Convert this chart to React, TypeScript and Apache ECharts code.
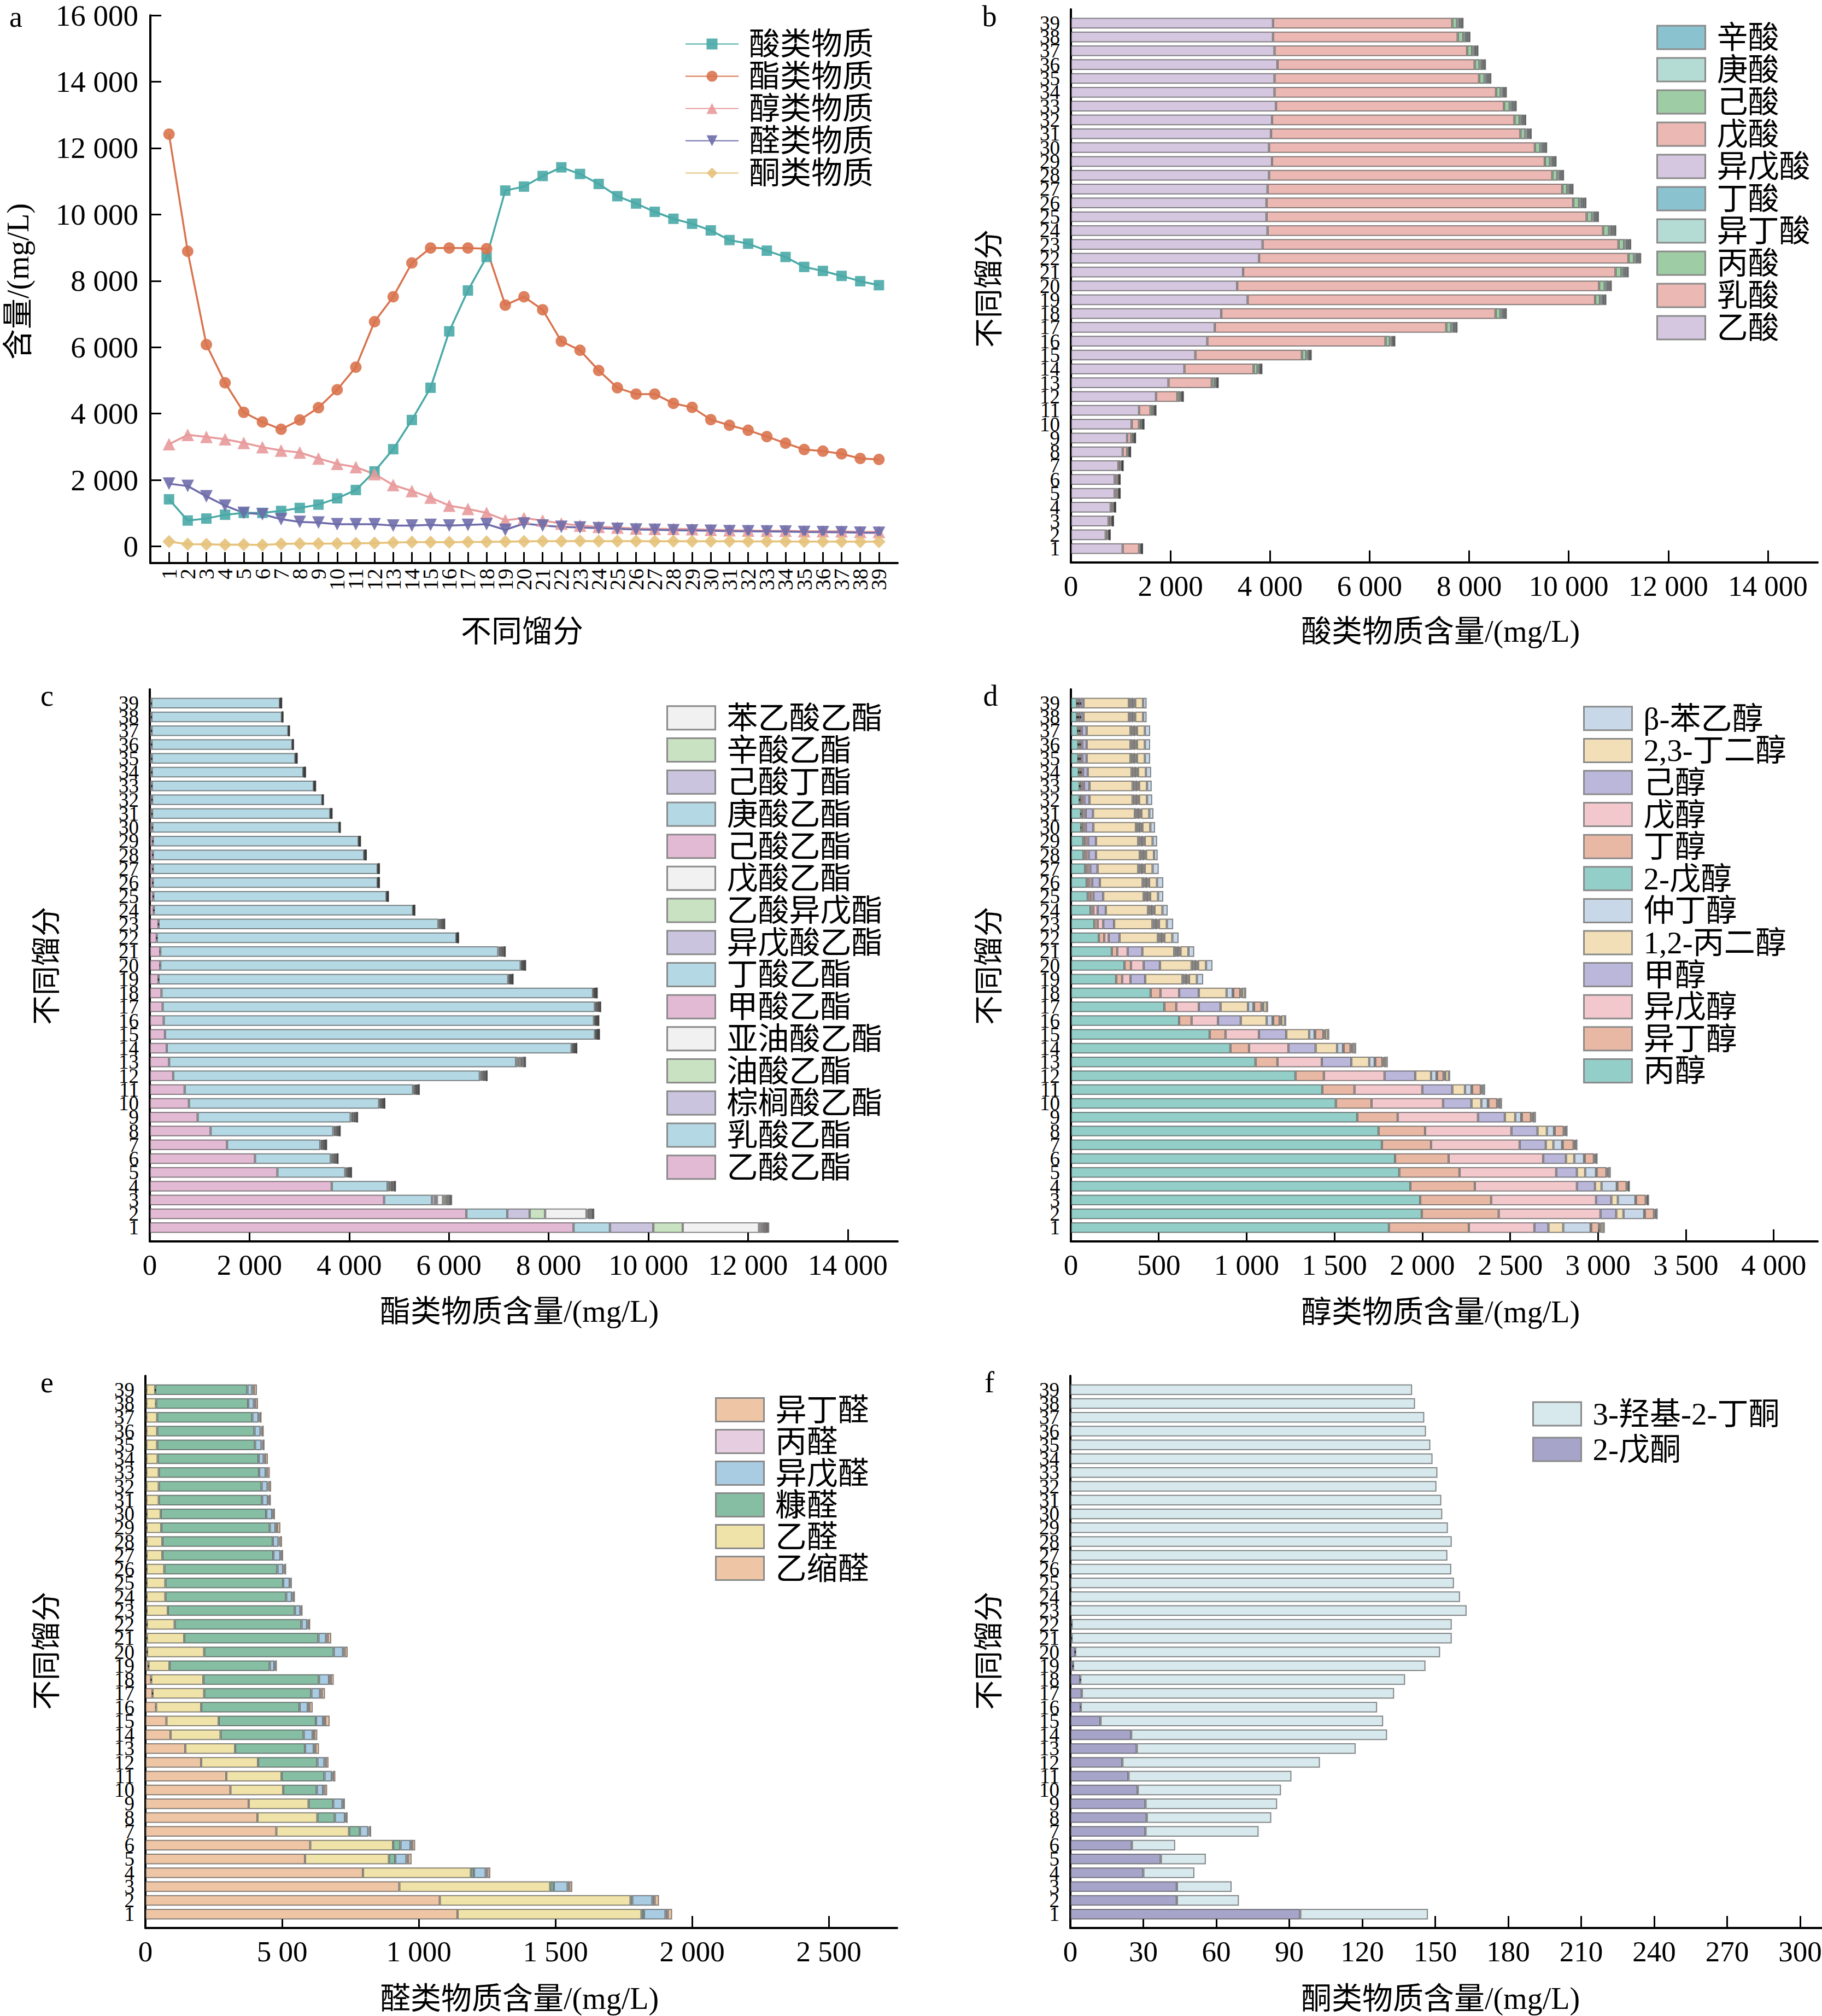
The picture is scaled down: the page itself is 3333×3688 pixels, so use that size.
import React, { useEffect, useRef } from 'react';
import * as echarts from 'echarts';

const W = 3333;
const H = 3688;
const LATIN = '"Liberation Serif", "Times New Roman", serif';
const FONT = '"Liberation Serif", "Noto Sans CJK SC", serif';

// ---------- categories / tick labels ----------
const fractions = ['1','2','3','4','5','6','7','8','9','10','11','12','13','14','15','16','17','18','19','20','21','22','23','24','25','26','27','28','29','30','31','32','33','34','35','36','37','38','39'];
const ticksA = [0, 2000, 4000, 6000, 8000, 10000, 12000, 14000, 16000];
const labelsA = ['0', '2 000', '4 000', '6 000', '8 000', '10 000', '12 000', '14 000', '16 000'];
const ticksBC = [0, 2000, 4000, 6000, 8000, 10000, 12000, 14000];
const labelsBC = ['0', '2 000', '4 000', '6 000', '8 000', '10 000', '12 000', '14 000'];
const ticksD = [0, 500, 1000, 1500, 2000, 2500, 3000, 3500, 4000];
const labelsD = ['0', '500', '1 000', '1 500', '2 000', '2 500', '3 000', '3 500', '4 000'];
const ticksE = [0, 500, 1000, 1500, 2000, 2500];
const labelsE = ['0', '5 00', '1 000', '1 500', '2 000', '2 500'];
const ticksF = [0, 30, 60, 90, 120, 150, 180, 210, 240, 270, 300];
const labelsF = ['0', '30', '60', '90', '120', '150', '180', '210', '240', '270', '300'];

// ---------- panel a: totals ----------
const acidTotal = [1420,780,840,955,1010,1010,1070,1160,1260,1450,1700,2260,2930,3810,4780,6480,7710,8720,10720,10840,11160,11420,11220,10920,10550,10330,10080,9870,9720,9520,9230,9120,8910,8720,8420,8300,8150,7990,7870];
const esterTotal = [12420,8890,6080,4930,4040,3750,3530,3810,4180,4720,5400,6770,7520,8540,8990,8990,8990,8970,7270,7520,7130,6180,5910,5300,4780,4590,4590,4310,4190,3820,3650,3500,3310,3110,2920,2870,2790,2650,2620];
const alcoholTotal = [3080,3360,3300,3230,3120,2990,2890,2830,2650,2490,2390,2180,1850,1670,1470,1230,1130,1010,790,855,780,690,630,590,570,540,530,530,520,500,490,480,470,470,460,460,455,440,440];
const aldehydeTotal = [1890,1820,1510,1230,1010,970,820,740,720,670,670,670,630,630,650,630,650,670,500,690,630,590,570,550,530,510,500,490,480,470,460,455,450,445,435,430,425,415,410];
const ketoneTotal = [147,69,66,51,56,43,77,83,85,87,91,103,117,130,129,126,133,138,146,152,157,157,163,160,158,157,155,157,155,153,153,151,151,149,148,146,146,142,141];

// ---------- panel b: acids ----------
const aceticAcid = [1040,700,757,800,880,880,955,1040,1130,1220,1370,1710,1960,2280,2500,2740,2890,3020,3550,3340,3460,3780,3850,3950,3930,3930,3950,3980,4040,3980,4020,4040,4120,4090,4090,4150,4090,4060,4060];
const lacticAcid = [330,35,43,45,50,50,45,90,80,150,230,430,870,1390,2140,3580,4650,5510,6980,7270,7480,7420,7150,6740,6430,6160,5920,5690,5480,5340,5010,4870,4580,4450,4110,3960,3870,3710,3600];
const propionicAcid = [30,20,20,20,25,25,20,30,40,45,50,55,60,80,90,90,100,100,100,115,120,115,115,120,110,120,100,105,105,110,100,105,115,95,110,100,100,115,100];
const isobutyricAcid = [8,6,6,6,6,6,5,8,10,10,12,12,14,18,20,20,24,24,24,27,28,27,27,28,26,28,24,25,25,26,24,25,27,23,26,24,24,27,24];
const butyricAcid = [12,10,10,10,10,10,8,12,15,16,18,20,22,28,32,32,36,36,36,40,42,40,40,42,40,42,36,38,38,40,36,38,40,34,40,36,36,40,36];
const isovalericAcid = [4,4,4,4,4,4,4,4,5,6,6,7,8,9,10,10,12,12,12,13,14,13,13,14,13,14,12,12,12,13,12,12,13,11,12,12,12,13,12];
const valericAcid = [4,3,4,3,4,4,3,4,5,5,6,6,6,8,8,8,10,10,10,11,11,11,11,11,10,11,10,10,10,10,10,10,11,10,10,10,10,11,10];
const hexanoicAcid = [8,8,8,8,7,7,6,8,10,12,12,13,13,17,19,19,24,24,24,27,28,27,27,28,26,28,24,25,25,26,24,25,27,23,26,24,24,27,24];
const heptanoicAcid = [2,2,2,2,2,2,2,2,2,3,3,3,4,5,6,6,7,7,7,8,8,8,8,8,7,8,7,7,7,8,7,7,8,7,8,7,7,8,7];
const octanoicAcid = [2,2,2,2,2,2,2,2,3,3,3,4,3,5,5,5,7,7,7,9,9,9,9,9,8,9,7,8,8,7,7,8,9,7,8,7,7,9,7];

// ---------- panel c: esters ----------
const ethylAcetate = [8500,6350,4700,3650,2560,2110,1550,1220,960,785,700,470,387,340,305,280,258,235,175,210,210,140,175,80,70,60,60,60,60,50,45,45,40,40,38,36,35,32,30];
const ethylLactate = [730,820,960,1120,1360,1520,1870,2460,3070,3815,4580,6150,6960,8120,8625,8630,8670,8655,7015,7230,6780,6010,5615,5200,4680,4510,4510,4240,4130,3750,3575,3415,3250,3040,2882,2824,2745,2618,2580];
const ethylPalmitate = [870,450,60,22,18,21,18,20,20,16,18,21,27,15,13,14,16,12,14,14,20,6,18,5,5,5,5,6,5,3,5,3,5,6,5,3,3,3,5];
const ethylOleate = [590,310,40,15,12,14,12,13,13,11,12,14,18,10,9,9,11,8,9,9,13,4,12,3,3,3,3,4,3,2,3,2,3,4,3,2,2,2,3];
const ethylLinoleate = [1530,830,120,14,12,13,12,13,12,11,12,13,18,10,8,9,11,8,9,9,13,4,12,3,3,3,3,4,3,2,3,2,3,4,3,2,2,2,3];
const ethylFormate = [30,20,25,18,14,17,14,16,16,13,14,17,22,12,10,11,13,10,11,11,16,5,14,4,4,4,4,5,4,2,4,2,4,5,4,2,2,2,4];
const ethylButyrate = [25,20,25,15,12,14,12,13,13,11,12,14,18,10,9,9,11,8,9,9,13,4,12,3,3,3,3,4,3,2,3,2,3,4,3,2,2,2,3];
const ethylIsovalerate = [15,10,15,8,6,7,6,7,7,6,6,7,9,5,4,5,6,4,5,5,7,2,6,2,2,2,2,2,2,1,2,1,2,2,2,1,1,1,2];
const isoamylAcetate = [30,25,30,18,15,17,14,16,15,13,14,17,21,12,10,11,13,10,11,11,16,5,14,4,4,4,4,5,4,2,4,2,4,5,4,2,2,2,4];
const ethylValerate = [10,10,10,8,6,7,6,7,7,6,6,7,9,5,4,5,6,4,5,5,7,2,6,2,2,2,2,2,2,1,2,1,2,2,2,1,1,1,2];
const ethylHexanoate = [40,30,30,18,14,17,15,16,16,13,14,17,22,12,10,11,13,10,11,11,16,5,14,4,4,4,4,5,4,2,4,2,4,5,4,2,2,2,4];
const ethylHeptanoate = [10,8,10,7,6,7,6,6,7,5,6,7,9,5,4,4,6,4,4,5,7,2,6,2,2,2,2,2,2,1,2,1,2,2,2,1,1,1,2];
const butylHexanoate = [10,8,10,5,4,4,4,4,4,3,4,4,5,3,3,3,3,2,3,3,4,1,4,1,1,1,1,1,1,1,1,1,1,1,1,1,1,1,1];
const ethylOctanoate = [20,12,15,8,6,7,6,7,7,6,6,7,9,5,4,5,6,4,5,5,7,2,6,2,2,2,2,2,2,1,2,1,2,2,2,1,1,1,2];
const ethylPhenylacetate = [10,7,10,4,4,4,4,4,4,3,4,4,5,3,3,3,3,2,3,3,4,1,4,1,1,1,1,1,1,1,1,1,1,1,1,1,1,1,1];

// ---------- panel d: alcohols ----------
const propanol = [1810,1997,1988,1932,1869,1845,1770,1751,1630,1508,1431,1278,1051,908,790,616,532,454,258,305,233,159,134,112,96,90,81,72,70,59,58,50,50,45,42,42,40,35,35];
const isobutanol = [455,438,404,367,343,305,280,265,230,203,183,162,125,106,90,71,68,56,34,37,31,31,18,16,16,15,14,14,13,12,12,12,11,11,10,10,10,9,9];
const isoamylAlcohol = [373,579,597,581,550,538,504,491,457,407,386,345,252,224,190,150,128,106,47,72,59,25,32,24,16,16,15,15,15,14,14,14,13,13,12,12,12,11,11];
const methanol = [80,90,87,103,118,130,149,149,153,162,171,175,168,155,156,130,124,112,84,93,84,62,62,47,56,44,42,42,45,43,42,30,32,27,26,26,28,17,17];
const propanediol = [84,41,37,37,47,47,43,53,59,56,72,90,102,122,130,147,156,158,212,180,181,218,218,240,230,243,231,249,240,242,238,245,245,249,249,249,249,258,258];
const secButanol = [156,118,100,87,62,56,50,41,34,37,37,31,31,34,31,34,31,35,10,10,10,10,10,10,10,10,10,10,10,10,10,10,10,10,10,10,10,10,10];
const pentan2ol = [3,3,3,3,3,3,3,3,3,3,3,3,3,3,3,3,3,3,5,5,5,5,5,5,5,5,5,5,5,5,5,5,5,5,5,5,5,5,5];
const butanol = [45,53,56,53,56,53,62,52,53,50,50,37,41,40,47,37,43,40,12,12,11,12,12,12,12,12,12,11,12,12,12,12,12,12,12,12,12,11,11];
const pentanol = [5,5,5,5,5,5,5,5,5,5,5,5,5,5,5,5,5,5,5,5,5,5,5,5,5,5,5,5,5,5,5,5,5,5,5,5,5,5,5];
const hexanol = [5,5,5,5,5,5,5,5,5,5,5,5,5,5,5,5,5,5,5,5,5,5,5,5,5,5,5,5,5,5,5,5,5,5,5,5,5,5,5];
const butanediol = [15,3,1,1,7,3,4,4,10,10,7,20,13,14,16,20,20,16,45,45,45,45,45,45,45,45,45,45,45,45,45,45,45,45,45,45,45,45,45];
const phenylethanol = [8,8,8,8,8,8,8,8,8,8,8,8,8,8,8,8,8,8,36,37,33,36,36,30,30,36,35,21,26,27,24,30,27,30,30,30,30,20,20];

// ---------- panel e: aldehydes ----------
const acetal = [1142,1077,929,796,584,603,479,410,378,311,296,204,146,92,77,39,26,21,11,6,5,5,4,4,4,4,4,4,4,4,3,3,3,3,3,3,3,3,3];
const acetaldehyde = [673,698,552,395,307,303,266,219,219,193,202,208,182,183,191,165,189,191,77,209,137,102,78,69,69,65,58,58,54,52,46,46,46,42,40,40,40,36,33];
const furfural = [9,6,13,11,23,27,40,64,90,123,157,217,256,304,356,360,392,423,367,474,491,464,465,442,431,414,406,404,397,386,378,376,367,369,358,356,348,337,337];
const isovaleraldehyde = [79,74,51,43,41,37,30,37,34,23,27,26,32,33,26,30,32,37,17,34,28,21,20,21,24,21,26,21,21,22,21,22,24,19,24,22,23,21,18];
const propanal = [8,8,6,6,6,6,4,3,3,5,4,5,6,6,8,6,6,6,3,6,6,4,3,4,3,4,3,4,6,3,4,4,5,5,4,4,4,5,6];
const isobutyraldehyde = [16,16,11,11,13,11,7,7,6,10,9,10,13,11,16,12,12,11,6,11,13,7,5,7,5,7,7,9,12,7,7,9,10,10,7,8,7,10,11];

// ---------- panel f: ketones ----------
const pentan2one = [94.5,43.8,43.8,30,37.2,25.3,30.9,31.4,30.9,27.7,23.9,21.4,27.3,25,12.4,4.3,4.7,4.1,1.1,2,0.5,0.5,0,0,0,0,0,0,0,0,0,0,0,0,0,0,0,0,0];
const acetoin = [52.5,25.5,22.5,21,18.5,17.8,46.5,51.2,54.1,58.9,67,81.2,90,105.2,116.2,121.8,128.4,133.5,144.9,150,156.3,156.3,162.9,160.2,157.7,156.6,155,156.8,155.2,152.9,152.5,150.5,150.9,148.9,148,146.2,145.5,141.7,140.5];

// ---------- helpers ----------
const padCats = ['', ...fractions, ''];
const pad = (a: number[]) => [null, ...a, null];

type Def = [string, number[], string];

const defsB: Def[] = [
  ['乙酸', aceticAcid, '#D4C7DF'],
  ['乳酸', lacticAcid, '#EBB8B3'],
  ['丙酸', propionicAcid, '#9ECCA4'],
  ['异丁酸', isobutyricAcid, '#B5DCD4'],
  ['丁酸', butyricAcid, '#8BC2CF'],
  ['异戊酸', isovalericAcid, '#D4C7DF'],
  ['戊酸', valericAcid, '#EBB8B3'],
  ['己酸', hexanoicAcid, '#9ECCA4'],
  ['庚酸', heptanoicAcid, '#B5DCD4'],
  ['辛酸', octanoicAcid, '#8BC2CF'],
];
const defsC: Def[] = [
  ['乙酸乙酯', ethylAcetate, '#E3BAD3'],
  ['乳酸乙酯', ethylLactate, '#B4D9E4'],
  ['棕榈酸乙酯', ethylPalmitate, '#CAC4DE'],
  ['油酸乙酯', ethylOleate, '#C8E2C2'],
  ['亚油酸乙酯', ethylLinoleate, '#F1F1F1'],
  ['甲酸乙酯', ethylFormate, '#E3BAD3'],
  ['丁酸乙酯', ethylButyrate, '#B4D9E4'],
  ['异戊酸乙酯', ethylIsovalerate, '#CAC4DE'],
  ['乙酸异戊酯', isoamylAcetate, '#C8E2C2'],
  ['戊酸乙酯', ethylValerate, '#F1F1F1'],
  ['己酸乙酯', ethylHexanoate, '#E3BAD3'],
  ['庚酸乙酯', ethylHeptanoate, '#B4D9E4'],
  ['己酸丁酯', butylHexanoate, '#CAC4DE'],
  ['辛酸乙酯', ethylOctanoate, '#C8E2C2'],
  ['苯乙酸乙酯', ethylPhenylacetate, '#F1F1F1'],
];
const defsD: Def[] = [
  ['丙醇', propanol, '#93CEC8'],
  ['异丁醇', isobutanol, '#E8B8A4'],
  ['异戊醇', isoamylAlcohol, '#F2C8CC'],
  ['甲醇', methanol, '#BAB7DB'],
  ['1,2-丙二醇', propanediol, '#F2DFB7'],
  ['仲丁醇', secButanol, '#C8D8E8'],
  ['2-戊醇', pentan2ol, '#93CEC8'],
  ['丁醇', butanol, '#E8B8A4'],
  ['戊醇', pentanol, '#F2C8CC'],
  ['己醇', hexanol, '#BAB7DB'],
  ['2,3-丁二醇', butanediol, '#F2DFB7'],
  ['β-苯乙醇', phenylethanol, '#C8D8E8'],
];
const defsE: Def[] = [
  ['乙缩醛', acetal, '#EEC6A5'],
  ['乙醛', acetaldehyde, '#F0E3A9'],
  ['糠醛', furfural, '#86BEA4'],
  ['异戊醛', isovaleraldehyde, '#A9CCE3'],
  ['丙醛', propanal, '#E7CDE0'],
  ['异丁醛', isobutyraldehyde, '#EEC6A5'],
];
const defsF: Def[] = [
  ['2-戊酮', pentan2one, '#A6A4C9'],
  ['3-羟基-2-丁酮', acetoin, '#D8E9ED'],
];

const lineDefs: [string, number[], string, string, number, number][] = [
  ['酸类物质', acidTotal, '#49A9A6', 'rect', 19, 0],
  ['酯类物质', esterTotal, '#D9734E', 'circle', 21, 0],
  ['醇类物质', alcoholTotal, '#E89A9B', 'triangle', 23, 0],
  ['醛类物质', aldehydeTotal, '#6D6BAA', 'triangle', 23, 180],
  ['酮类物质', ketoneTotal, '#E5C27A', 'diamond', 24, 0],
];

function fmtFrom(ticks: number[], labels: string[]) {
  return (v: number) => {
    const i = ticks.indexOf(Math.round(v));
    return i >= 0 ? labels[i] : '';
  };
}

const grids = [
  { left: 275, top: 28, width: 1367, height: 1002 },
  { left: 1959, top: 17, width: 1366, height: 1012 },
  { left: 274, top: 1261, width: 1368, height: 1010 },
  { left: 1959, top: 1261, width: 1366, height: 1010 },
  { left: 266, top: 2517, width: 1375, height: 1010 },
  { left: 1958, top: 2517, width: 1375, height: 1010 },
];

const AXIS_LINE = { show: true, onZero: false, lineStyle: { color: '#000', width: 4 } };

function valueXAxis(idx: number, max: number, ticks: number[], labels: string[]) {
  return {
    type: 'value', gridIndex: idx, min: 0, max,
    axisLine: AXIS_LINE,
    axisTick: { show: true, inside: true, length: 22, lineStyle: { color: '#000', width: 3 }, customValues: ticks },
    axisLabel: { show: true, customValues: ticks, formatter: fmtFrom(ticks, labels), fontFamily: LATIN, fontSize: 53, color: '#000', margin: 16 },
    splitLine: { show: false },
  };
}

function catYAxis(idx: number) {
  return {
    type: 'category', gridIndex: idx, data: padCats, boundaryGap: false,
    axisLine: AXIS_LINE,
    axisTick: { show: true, inside: true, length: 19, interval: (_i: number, v: string) => v !== '', lineStyle: { color: '#000', width: 4 } },
    axisLabel: { show: true, interval: 0, fontFamily: LATIN, fontSize: 37, lineHeight: 26, color: '#000', margin: 20 },
    splitLine: { show: false },
  };
}

function barSeries(defs: Def[], stack: string, idx: number) {
  return defs.map(([name, data, color]) => ({
    type: 'bar', name, stack, xAxisIndex: idx, yAxisIndex: idx, data: pad(data),
    barCategoryGap: '22%', silent: true,
    itemStyle: { color, borderColor: 'rgba(60,60,60,0.6)', borderWidth: 2 },
    emphasis: { disabled: true },
  }));
}

function barLegend(defs: Def[], left: number, top: number, rowH: number) {
  return {
    show: true, orient: 'vertical', left, top, itemWidth: 88, itemHeight: 43, itemGap: 0,
    selectedMode: false, icon: 'rect',
    data: defs.map((d) => d[0]).reverse(),
    itemStyle: { borderColor: '#8a8a8a', borderWidth: 3 },
    textStyle: { fontFamily: FONT, fontSize: 57, color: '#000', lineHeight: rowH, padding: [0, 0, 0, 16] },
  };
}

function txt(text: string, x: number, y: number, size: number, rotation = 0) {
  return {
    type: 'text', x, y, rotation, silent: true,
    style: { text, fontFamily: FONT, fontSize: size, fill: '#000', align: 'center', verticalAlign: 'middle' },
  };
}

function buildOption() {
  const lineSeries = lineDefs.map(([name, data, color, symbol, size, rot]) => ({
    type: 'line', name, xAxisIndex: 0, yAxisIndex: 0, data: pad(data),
    symbol, symbolSize: size, symbolRotate: rot, showSymbol: true, showAllSymbol: true,
    lineStyle: { color, width: 3.5 }, itemStyle: { color, opacity: 0.9 },
    silent: true, emphasis: { disabled: true },
  }));

  return {
    animation: false,
    backgroundColor: '#fff',
    grid: grids.map((g) => ({ ...g, containLabel: false, outerBoundsMode: 'none' })),
    xAxis: [
      {
        type: 'category', gridIndex: 0, data: padCats, boundaryGap: false,
        axisLine: AXIS_LINE,
        axisTick: { show: true, inside: true, length: 20, interval: (_i: number, v: string) => v !== '', lineStyle: { color: '#000', width: 3 } },
        axisLabel: { show: true, interval: 0, rotate: 90, fontFamily: LATIN, fontSize: 40, color: '#000', margin: 10 },
        splitLine: { show: false },
      },
      valueXAxis(1, 15000, ticksBC, labelsBC),
      valueXAxis(2, 15000, ticksBC, labelsBC),
      valueXAxis(3, 4250, ticksD, labelsD),
      valueXAxis(4, 2750, ticksE, labelsE),
      valueXAxis(5, 309, ticksF, labelsF),
    ],
    yAxis: [
      {
        type: 'value', gridIndex: 0, min: -500, max: 16000,
        axisLine: AXIS_LINE,
        axisTick: { show: true, inside: true, length: 20, lineStyle: { color: '#000', width: 3 }, customValues: ticksA },
        axisLabel: { show: true, customValues: ticksA, formatter: fmtFrom(ticksA, labelsA), fontFamily: LATIN, fontSize: 55, color: '#000', margin: 22 },
        splitLine: { show: false },
      },
      catYAxis(1), catYAxis(2), catYAxis(3), catYAxis(4), catYAxis(5),
    ],
    legend: [
      {
        show: true, orient: 'vertical', left: 1248, top: 46, itemWidth: 97, itemHeight: 25, itemGap: 0,
        selectedMode: false, data: lineDefs.map((d) => d[0]),
        textStyle: { fontFamily: FONT, fontSize: 57, color: '#000', lineHeight: 59, padding: [0, 0, 0, 14] },
      },
      barLegend(defsB, 3025, 34, 59),
      barLegend(defsC, 1214, 1279, 58.7),
      barLegend(defsD, 2891, 1280, 58.6),
      barLegend(defsE, 1303, 2545, 58),
      barLegend(defsF, 2798, 2549, 65),
    ],
    series: [
      ...lineSeries,
      ...barSeries(defsB, 'b', 1),
      ...barSeries(defsC, 'c', 2),
      ...barSeries(defsD, 'd', 3),
      ...barSeries(defsE, 'e', 4),
      ...barSeries(defsF, 'f', 5),
    ],
    graphic: [
      txt('a', 29, 31, 54), txt('b', 1810, 30, 54), txt('c', 86, 1273, 54),
      txt('d', 1812, 1273, 54), txt('e', 86, 2529, 54), txt('f', 1810, 2529, 54),
      txt('不同馏分', 955, 1155, 56),
      txt('酸类物质含量/(mg/L)', 2635, 1155, 56),
      txt('酯类物质含量/(mg/L)', 950, 2399, 56),
      txt('醇类物质含量/(mg/L)', 2635, 2400, 56),
      txt('醛类物质含量/(mg/L)', 950, 3656, 56),
      txt('酮类物质含量/(mg/L)', 2635, 3656, 56),
      txt('含量/(mg/L)', 33, 515, 56, Math.PI / 2),
      txt('不同馏分', 1810, 528, 54, Math.PI / 2),
      txt('不同馏分', 86, 1767, 54, Math.PI / 2),
      txt('不同馏分', 1810, 1767, 54, Math.PI / 2),
      txt('不同馏分', 86, 3020, 54, Math.PI / 2),
      txt('不同馏分', 1810, 3020, 54, Math.PI / 2),
    ],
  };
}

export default function App() {
  const ref = useRef<HTMLDivElement>(null);
  useEffect(() => {
    document.body.style.margin = '0';
    const chart = echarts.init(ref.current as HTMLDivElement, null, { renderer: 'svg', width: W, height: H });
    chart.setOption(buildOption() as any);
    return () => chart.dispose();
  }, []);
  return <div ref={ref} style={{ width: W, height: H, background: '#fff' }} />;
}
